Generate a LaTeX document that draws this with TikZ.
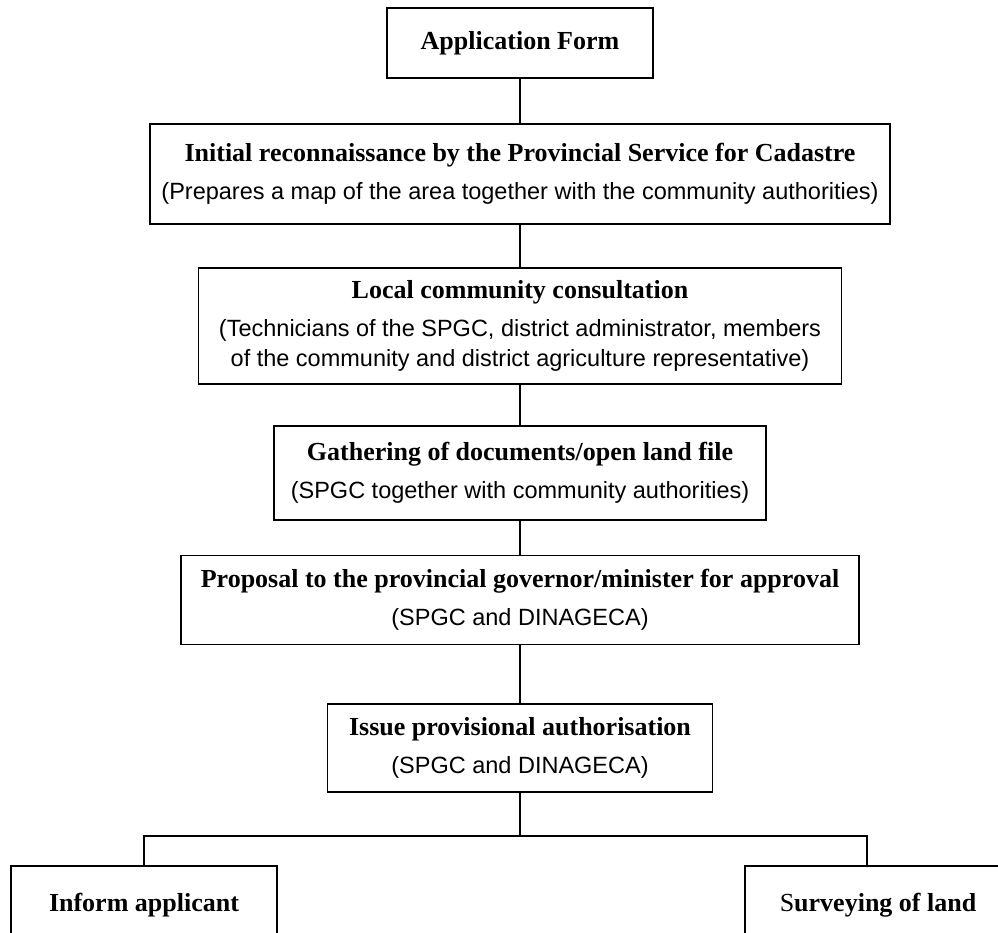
\documentclass[tikz,border=0pt]{standalone}
\usepackage{fontspec}
\setmainfont{Liberation Serif}
\newfontfamily\notefont{Liberation Sans}
\usetikzlibrary{positioning}
\newcommand{\boxtitle}[1]{{\bfseries\fontsize{26}{30}\selectfont #1}}
\newcommand{\boxnote}[1]{{\notefont\fontsize{23.5}{30}\selectfont #1}}

\begin{document}
\begin{tikzpicture}[x=1pt, y=-1pt, line width=1.1pt,
  stage box/.style={draw, rectangle, align=center, inner sep=0pt, font=\fontsize{24}{30}\selectfont}]
\useasboundingbox (0,0) rectangle (998,932);
\begin{scope}
\node[stage box, minimum width=266pt, minimum height=70pt] (b1) at (520,43) {\boxtitle{Application Form}};
\node[stage box, minimum width=740pt, minimum height=100pt] (b2) at (520,174) {\boxtitle{Initial reconnaissance by the Provincial Service for Cadastre}\\[8pt]
  \boxnote{(Prepares a map of the area together with the community authorities)}};
\node[stage box, minimum width=643pt, minimum height=116pt] (b3) at (520,326) {\boxtitle{Local community consultation}\\[8pt]
  \boxnote{(Technicians of the SPGC, district administrator, members}\\
  \boxnote{of the community and district agriculture representative)}};
\node[stage box, minimum width=492pt, minimum height=94pt] (b4) at (520,473) {\boxtitle{Gathering of documents/open land file}\\[8pt]
  \boxnote{(SPGC together with community authorities)}};
\node[stage box, minimum width=678pt, minimum height=89pt] (b5) at (520,600) {\boxtitle{Proposal to the provincial governor/minister for approval}\\[8pt]
  \boxnote{(SPGC and DINAGECA)}};
\node[stage box, minimum width=385pt, minimum height=88pt] (b6) at (520,748) {\boxtitle{Issue provisional authorisation}\\[8pt]
  \boxnote{(SPGC and DINAGECA)}};
\node[stage box, minimum width=266pt, minimum height=78pt] (b7) at (144,905) {\boxtitle{Inform applicant}};
\node[stage box, minimum width=266pt, minimum height=78pt] (b8) at (878,905) {\boxtitle{{\mdseries S}urveying of land}};
\coordinate (fork) at (520,836);
\end{scope}
\begin{scope}
\draw (b1) edge (b2);
\draw (b2) edge (b3);
\draw (b3) edge (b4);
\draw (b4) edge (b5);
\draw (b5) edge (b6);
\draw (b6.south) -- (fork);
\draw (b7.north) |- (fork) -| ([xshift=-11pt]b8.north);
\end{scope}
\end{tikzpicture}
\end{document}
